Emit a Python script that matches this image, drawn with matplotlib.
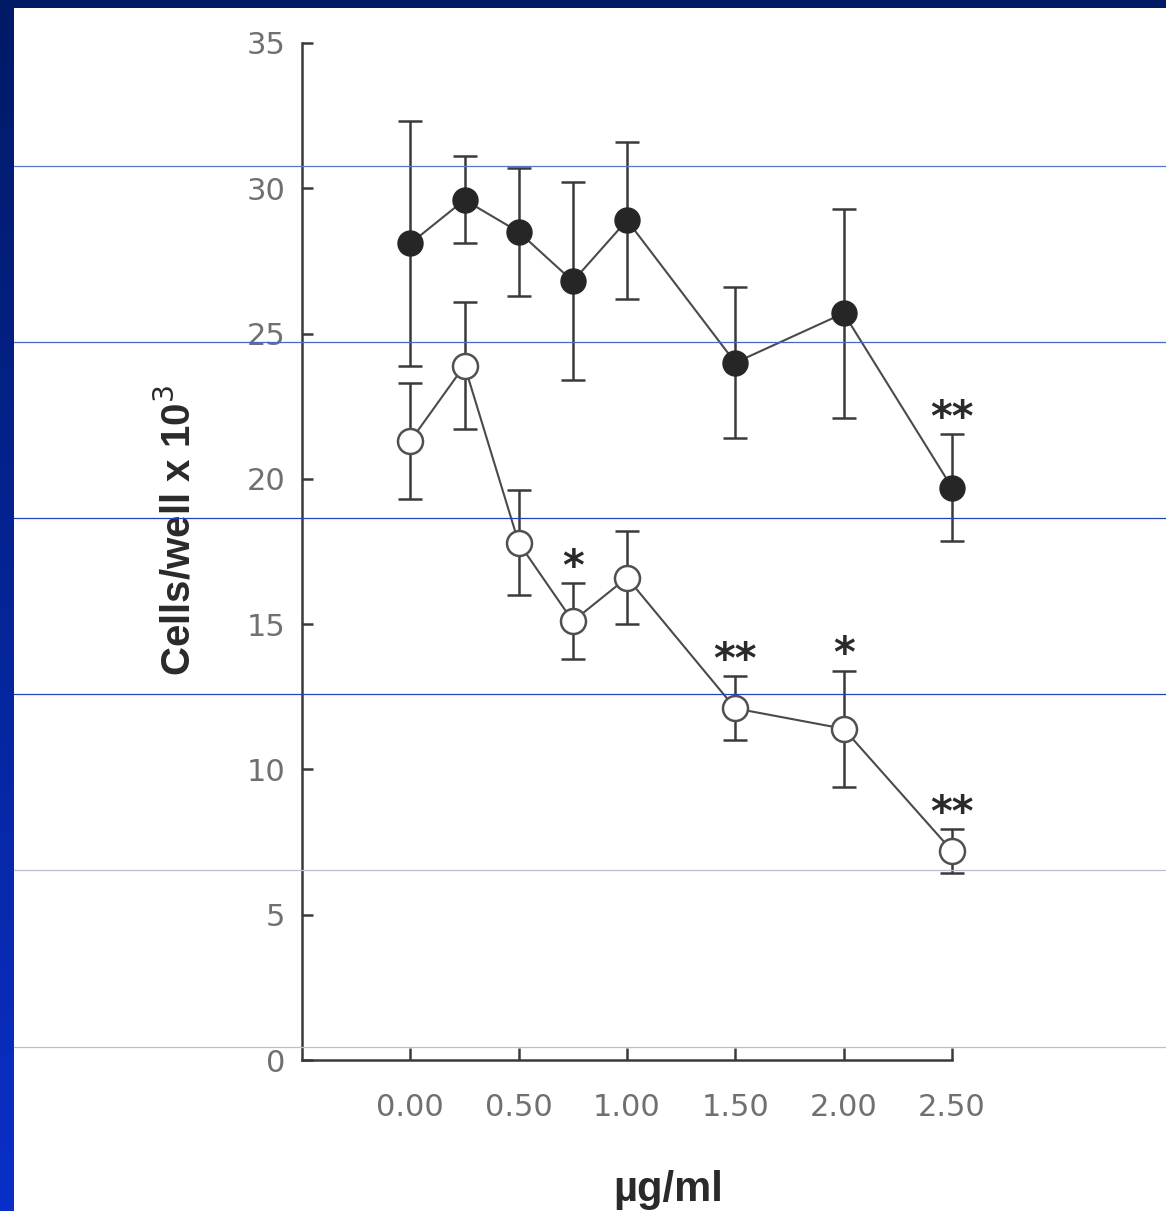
import matplotlib
matplotlib.use("Agg")
import matplotlib.pyplot as plt
import numpy as np
from matplotlib.lines import Line2D
from matplotlib.patches import Rectangle

# data
dose = [0.0, 0.25, 0.5, 0.75, 1.0, 1.5, 2.0, 2.5]
filled_mean = [28.1, 29.6, 28.5, 26.8, 28.9, 24.0, 25.7, 19.7]
filled_err = [4.2, 1.5, 2.2, 3.4, 2.7, 2.6, 3.6, 1.85]
open_mean = [21.3, 23.9, 17.8, 15.1, 16.6, 12.1, 11.4, 7.2]
open_err = [2.0, 2.2, 1.8, 1.3, 1.6, 1.1, 2.0, 0.75]

# significance marks: (series, dose, label)
stars = [("filled", 2.5, "**"), ("open", 0.75, "*"), ("open", 1.5, "**"),
         ("open", 2.0, "*"), ("open", 2.5, "**")]

xticks = [0.0, 0.5, 1.0, 1.5, 2.0, 2.5]
xticklabels = ["0.00", "0.50", "1.00", "1.50", "2.00", "2.50"]
yticks = [0, 5, 10, 15, 20, 25, 30, 35]

W, H = 1166, 1211
fig = plt.figure(figsize=(W / 100, H / 100), dpi=100)

# slide frame: navy band on top, gradient band on the left
bg = fig.add_axes([0, 0, 14 / W, 1])
grad = np.linspace(0, 1, 256).reshape(-1, 1)
bg.imshow(grad, aspect="auto", cmap=matplotlib.colors.LinearSegmentedColormap.from_list(
    "band", ["#0a2fc8", "#001a66"]), origin="lower", extent=[0, 1, 0, 1])
bg.axis("off")
fig.patches.append(Rectangle((0, 1 - 8 / H), 1, 8 / H, transform=fig.transFigure,
                             facecolor="#001a66", edgecolor="none", zorder=3))

ax = fig.add_axes([302 / W, (H - 1060) / H, 650 / W, 1017 / H])
ink = "#3a3a3a"

for mean, err in [(filled_mean, filled_err), (open_mean, open_err)]:
    ax.errorbar(dose, mean, yerr=err, fmt="-", color="#4a4a4a", lw=1.5,
                ecolor=ink, elinewidth=1.8, capsize=8.5, capthick=1.8, zorder=2,
                clip_on=False)
ax.plot(dose, filled_mean, "o", ms=18, mfc="#262626", mec="#262626", zorder=4,
        clip_on=False)
ax.plot(dose, open_mean, "o", ms=18, mfc="white", mec="#505050", mew=1.8, zorder=4,
        clip_on=False)

for series, xv, lab in stars:
    i = dose.index(xv)
    if series == "filled":
        top = filled_mean[i] + filled_err[i]
    else:
        top = open_mean[i] + open_err[i]
    ax.annotate(lab, (xv, top), xytext=(0, 11), textcoords="offset points",
                ha="center", va="center", fontsize=30, fontweight="bold",
                color="#2a2a2a", family="DejaVu Sans", annotation_clip=False)

ax.set_xlim(-0.5, 2.5)
ax.set_ylim(0, 35)
for s in ["top", "right"]:
    ax.spines[s].set_visible(False)
for s in ["left", "bottom"]:
    ax.spines[s].set_color(ink)
    ax.spines[s].set_linewidth(1.8)

ax.set_xticks(xticks)
ax.set_xticklabels(xticklabels)
ax.set_yticks(yticks)
ax.tick_params(axis="both", direction="in", color=ink, width=1.8, labelcolor="#707070",
               labelsize=22)
ax.tick_params(axis="x", length=9, pad=24)
ax.tick_params(axis="y", length=8, pad=12)

ax.set_xlabel("µg/ml", fontsize=30, fontweight="bold", color="#2a2a2a",
              family="Liberation Sans")
ax.xaxis.set_label_coords((668 - 302) / 650, -(1190 - 1060) / 1017)
ax.xaxis.label.set_va("center")
ax.set_ylabel("Cells/well x 10$^3$", fontsize=29, fontweight="bold", color="#2a2a2a",
              family="Liberation Sans")
ax.yaxis.set_label_coords(-(302 - 178) / 650, (1060 - 530) / 1017)
ax.yaxis.label.set_va("center")

# horizontal rules of the slide template, drawn over the chart
rules = [(166, "#5a74c8"), (342, "#4a66c4"), (518, "#2244bb"), (694, "#2244bb"),
         (870, "#b8bfd4"), (1047, "#b8bfd4")]
for ypx, col in rules:
    fig.lines.append(Line2D([14 / W, 1], [1 - ypx / H] * 2, transform=fig.transFigure,
                            color=col, lw=0.9, zorder=5))

fig.savefig("out.png", dpi=100)
